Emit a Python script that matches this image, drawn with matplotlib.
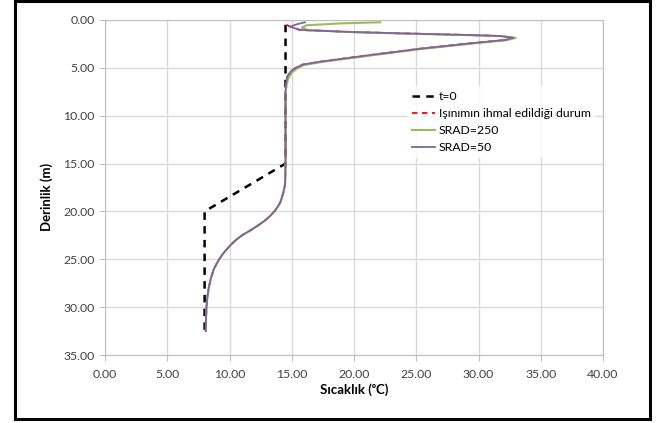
import matplotlib.pyplot as plt
from matplotlib.patches import Rectangle
from matplotlib.ticker import FormatStrFormatter

plt.rcParams['font.family'] = ['Lato', 'DejaVu Sans']

# t=0 initial profile
t0_temp = [14.5, 14.5, 8.0, 8.0]
t0_depth = [0.5, 15.0, 20.0, 32.5]

# lower part, same for all three model runs
deep_temp = [14.5, 14.5, 14.5, 14.47, 14.42, 14.33, 14.22, 14.1, 13.88, 13.6, 13.25, 12.8, 12.25, 11.65,
             11.0, 10.5, 10.1, 9.75, 9.43, 9.17, 8.95, 8.75, 8.5, 8.33, 8.22, 8.15, 8.12, 8.1, 8.1]
deep_depth = [7.5, 10.0, 15.0, 17.0, 17.5, 18.0, 18.5, 19.0, 19.5, 20.0, 20.5, 21.0, 21.5, 22.0,
              22.5, 23.0, 23.5, 24.0, 24.5, 25.0, 25.5, 26.0, 27.0, 28.0, 29.0, 30.0, 31.0, 32.0, 32.5]

# radiation ignored (red dashed), upper part
red_temp = [14.6, 14.86, 15.66, 19.7, 23.7, 29.3, 31.7, 32.8, 32.1, 29.3, 25.3, 21.3, 17.3, 15.9, 15.3,
            14.9, 14.65, 14.55] + deep_temp
red_depth = [0.5, 0.7, 1.04, 1.25, 1.39, 1.57, 1.67, 1.85, 2.09, 2.44, 3.0, 3.66, 4.35, 4.65, 5.0,
             5.4, 5.9, 6.6] + deep_depth

# SRAD=250 (green)
g_temp = [22.1, 19.0, 16.2, 15.8, 16.3, 19.9, 23.8, 29.4, 31.8, 33.0, 32.3, 29.5, 25.5, 21.5, 17.5, 16.0, 15.45,
          15.05, 14.75, 14.6] + deep_temp
g_depth = [0.24, 0.35, 0.55, 0.8, 1.05, 1.27, 1.41, 1.59, 1.69, 1.87, 2.1, 2.46, 3.02, 3.68, 4.37, 4.7, 5.05,
           5.45, 6.0, 6.7] + deep_depth

# SRAD=50 (purple)
p_temp = [16.06, 15.4, 14.86, 15.66, 19.7, 23.7, 29.3, 31.7, 32.8, 32.1, 29.3, 25.3, 21.3, 17.3, 15.9, 15.3,
          14.9, 14.65, 14.55] + deep_temp
p_depth = [0.24, 0.45, 0.7, 1.04, 1.25, 1.39, 1.57, 1.67, 1.85, 2.09, 2.44, 3.0, 3.66, 4.35, 4.65, 5.0,
           5.4, 5.9, 6.6] + deep_depth

fig = plt.figure(figsize=(6.6, 4.23), dpi=100)
ax = fig.add_axes([105/660, 1-355/423, 498/660, 335/423])

ax.plot(t0_temp, t0_depth, color='black', linestyle=(0, (3, 2.5)), linewidth=1.8, label='t=0')
ax.plot(red_temp, red_depth, color='#FF0000', linestyle=(0, (3, 2.5)), linewidth=1.3,
        label='Işınımın ihmal edildiği durum')
ax.plot(g_temp, g_depth, color='#9BBB59', linewidth=1.5, label='SRAD=250')
ax.plot(p_temp, p_depth, color='#8064A2', linewidth=1.3, label='SRAD=50')

ax.set_xlim(0, 40)
ax.set_ylim(35, 0)
ax.set_xticks(range(0, 41, 5))
ax.set_yticks(range(0, 36, 5))
ax.xaxis.set_major_formatter(FormatStrFormatter('%.2f'))
ax.yaxis.set_major_formatter(FormatStrFormatter('%.2f'))
ax.grid(True, color='#D9D9D9', linewidth=1)
ax.set_axisbelow(True)
for s in ax.spines.values():
    s.set_color('#BFBFBF')
ax.tick_params(colors='#BFBFBF', labelcolor='#404040', labelsize=8.8, length=4)
ax.tick_params(axis='x', pad=6)

fig.text(47/660, 1-197/423, 'Derinlik (m)', rotation=90, ha='center', va='center',
         fontsize=9.5, fontweight='bold')
fig.text(354/660, 1-390/423, 'Sıcaklık (ᵒC)', ha='center', va='center',
         fontsize=9.5, fontweight='bold')

leg = ax.legend(loc='upper left', bbox_to_anchor=((407-105)/498, 1-(86-20)/335),
                frameon=True, fontsize=8.8, handlelength=1.9, handletextpad=0.3,
                labelspacing=0.5, borderaxespad=0, fancybox=False)
leg.get_frame().set_edgecolor('white')
leg.get_frame().set_linewidth(0)

fig.patches.append(Rectangle((15/660, 1-419/423), 635/660, 418/423, transform=fig.transFigure,
                             fill=False, edgecolor='black', linewidth=2.2))

fig.savefig('out.png', dpi=100)
